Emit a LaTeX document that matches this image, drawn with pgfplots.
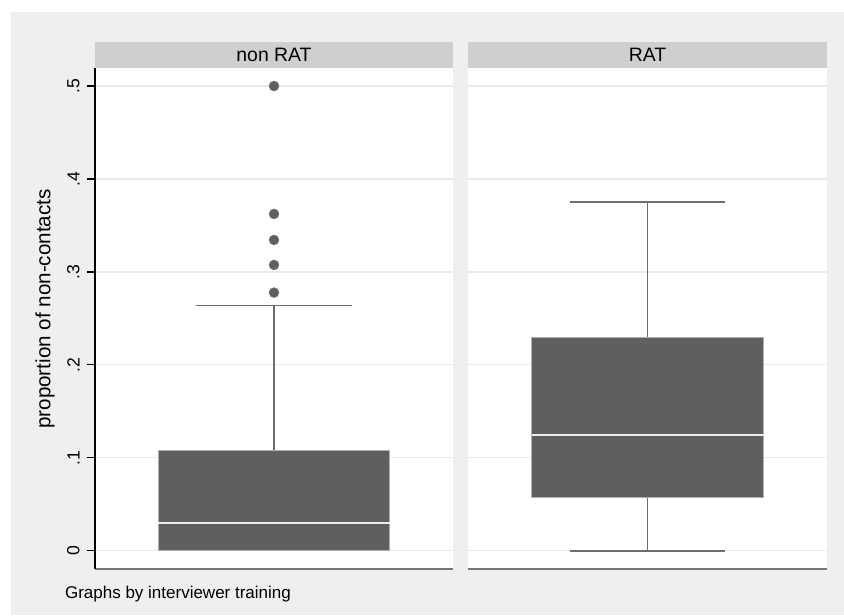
\documentclass[border=0pt]{standalone}
\usepackage{fontspec}
\setmainfont{Liberation Sans}
\usepackage{pgfplots}
\usepgfplotslibrary{statistics}
\pgfplotsset{compat=1.18}
\definecolor{bg}{HTML}{EFEFEF}
\definecolor{strip}{HTML}{CFCFCF}
\definecolor{boxc}{HTML}{5F5F5F}
\definecolor{gridc}{HTML}{EAEAEA}
\definecolor{whc}{HTML}{6E6E6E}
\definecolor{edgec}{HTML}{B0B0B0}
\definecolor{xaxc}{HTML}{767676}
\pgfplotsset{
  panel/.style={
    scale only axis, height=250.5pt, anchor=south west,
    xmin=0, xmax=1, ymin=-0.0197, ymax=0.5194,
    axis background/.style={fill=white},
    axis x line*=bottom, axis y line*=left,
    axis line style={-},
    x axis line style={draw=xaxc, line width=1pt},
    xtick=\empty,
    ytick={0,0.1,0.2,0.3,0.4,0.5},
    ymajorgrids, grid style={draw=gridc, line width=0.6pt},
    tick align=outside, major tick length=4pt,
    boxplot/draw direction=y,
    boxplot/every box/.style={fill=boxc, draw=edgec, line width=0.5pt},
    boxplot/every whisker/.style={draw=whc, line width=0.8pt},
    boxplot/every median/.style={draw=white!93!black, line width=1pt},
  }
}
\begin{document}
\begin{tikzpicture}[x=0.5pt,y=-0.5pt]
\fill[white] (0,0) rectangle (844,615);
\fill[bg] (11,12) rectangle (844,615);
\fill[strip] (95,42) rectangle (453,68);
\fill[strip] (468,42) rectangle (827.3,68);
\node[font=\fontsize{9.7}{11}\selectfont, anchor=base] at (274,61.7) {non RAT};
\node[font=\fontsize{9.7}{11}\selectfont, anchor=base] at (647.6,61.7) {RAT};
\node[font=\fontsize{10.3}{12}\selectfont, rotate=90] at (45,309) {proportion of non-contacts};
\node[font=\fontsize{8.5}{10}\selectfont, anchor=base west] at (58,598) {Graphs by interviewer training};

\begin{axis}[panel, at={(47.5pt,-284.5pt)}, width=179pt,
  y axis line style={draw=black, line width=0.6pt},
  ytick style={draw=black, line width=0.6pt},
  yticklabels={0,.1,.2,.3,.4,.5},
  yticklabel style={rotate=90, anchor=south, inner sep=0pt, yshift=3.5pt, font=\fontsize{8.8}{10}\selectfont},
]
\addplot[draw=whc, boxplot prepared={draw position=0.5, lower whisker=0, lower quartile=0,
  median=0.0298, upper quartile=0.1083, upper whisker=0.2638,
  box extend=0.646, whisker extend=0.433},
  boxplot/draw/lower whisker/.code={},
  mark=*, mark size=2.4pt, mark options={fill=boxc, draw=none}]
  coordinates {(0.5,0.5) (0.5,0.3624) (0.5,0.3344) (0.5,0.3075) (0.5,0.2777)};
\end{axis}

\begin{axis}[panel, at={(234pt,-284.5pt)}, width=179.65pt,
  y axis line style={draw=none},
  ytick style={draw=none},
  yticklabels={},
]
\addplot[draw=whc, boxplot prepared={draw position=0.5, lower whisker=0, lower quartile=0.0573,
  median=0.1244, upper quartile=0.2298, upper whisker=0.375,
  box extend=0.645, whisker extend=0.431},
  mark=*, mark size=2.4pt, mark options={fill=boxc, draw=none}]
  coordinates {};
\end{axis}
\end{tikzpicture}
\end{document}
